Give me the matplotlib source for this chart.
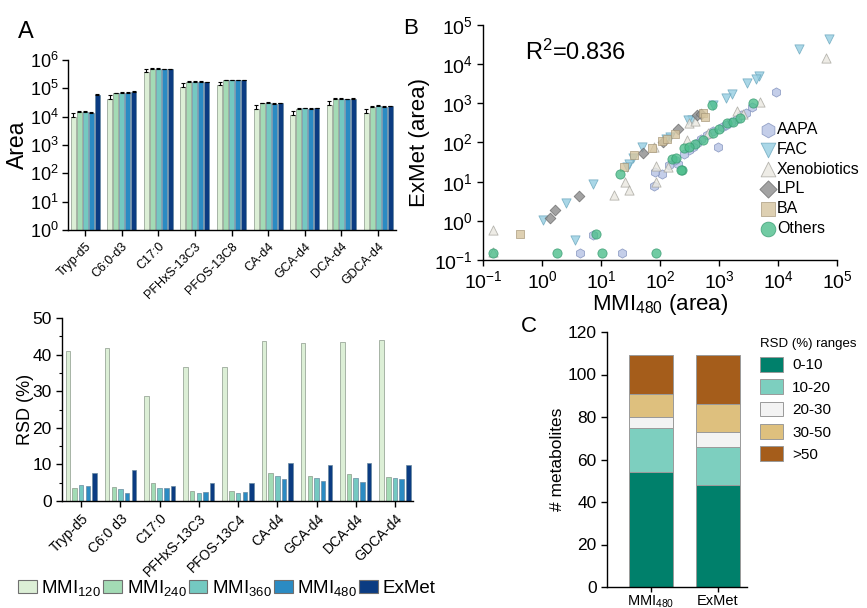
import numpy as np
import matplotlib
matplotlib.use("Agg")
import matplotlib.pyplot as plt
from matplotlib.patches import Patch
from matplotlib.ticker import LogLocator, NullLocator, MultipleLocator, LogFormatterSciNotation

plt.rcParams['font.family'] = ['Liberation Sans', 'DejaVu Sans']
plt.rcParams['mathtext.default'] = 'regular'
plt.rcParams['axes.linewidth'] = 1.0
plt.rcParams['axes.unicode_minus'] = False

# ---------------- Panel A (top): peak areas ----------------
cats_area = ['Tryp-d5', 'C6:0-d3', 'C17:0', 'PFHxS-13C3', 'PFOS-13C8', 'CA-d4', 'GCA-d4', 'DCA-d4', 'GDCA-d4']
area_mmi120 = [9.6e3, 4.2e4, 3.8e5, 1.15e5, 1.3e5, 1.9e4, 1.15e4, 2.6e4, 1.35e4]
area_mmi240 = [1.45e4, 6.6e4, 4.9e5, 1.7e5, 1.9e5, 3.0e4, 1.9e4, 4.2e4, 2.2e4]
area_mmi360 = [1.45e4, 6.9e4, 4.9e5, 1.7e5, 1.95e5, 3.1e4, 2.0e4, 4.3e4, 2.4e4]
area_mmi480 = [1.4e4, 6.9e4, 4.8e5, 1.7e5, 1.95e5, 2.9e4, 1.9e4, 4.1e4, 2.2e4]
area_exmet = [5.9e4, 7.5e4, 4.8e5, 1.65e5, 1.9e5, 3.0e4, 1.95e4, 4.2e4, 2.3e4]
err_mmi120 = [3.5e3, 1.6e4, 1.2e5, 4.0e4, 4.2e4, 7.0e3, 4.5e3, 9.0e3, 5.0e3]
err_mmi240 = [8e2, 3e3, 2e4, 7e3, 8e3, 1.5e3, 1.0e3, 2.0e3, 1.2e3]
err_mmi360 = [8e2, 3e3, 2e4, 7e3, 8e3, 1.5e3, 1.0e3, 2.0e3, 1.2e3]
err_mmi480 = [7e2, 3e3, 2e4, 7e3, 8e3, 1.5e3, 1.0e3, 2.0e3, 1.2e3]
err_exmet = [3e3, 4e3, 2e4, 7e3, 8e3, 1.5e3, 1.0e3, 2.0e3, 1.2e3]

# ---------------- Panel A (bottom): RSD ----------------
cats_rsd = ['Tryp-d5', 'C6:0 d3', 'C17:0', 'PFHxS-13C3', 'PFOS-13C4', 'CA-d4', 'GCA-d4', 'DCA-d4', 'GDCA-d4']
rsd_mmi120 = [40.9, 41.8, 28.8, 36.5, 36.5, 43.7, 43.1, 43.4, 44.1]
rsd_mmi240 = [3.6, 3.9, 5.0, 2.7, 2.7, 7.7, 6.8, 7.5, 6.6]
rsd_mmi360 = [4.3, 3.2, 3.6, 2.3, 2.3, 6.8, 6.2, 6.4, 6.3]
rsd_mmi480 = [4.2, 2.3, 3.6, 2.4, 2.4, 6.0, 5.5, 5.1, 6.0]
rsd_exmet = [7.7, 8.4, 4.2, 4.9, 4.9, 10.5, 9.7, 10.4, 9.8]

series_labels = ['MMI$_{120}$', 'MMI$_{240}$', 'MMI$_{360}$', 'MMI$_{480}$', 'ExMet']
series_colors = ['#DCEFD6', '#A3DBB5', '#74C9C1', '#2B8BC3', '#0B3C82']

# ---------------- Panel B: scatter ----------------
aapa_x = [9300, 3630, 2400, 2000, 1590, 1120, 955, 794, 631, 501, 417, 363, 316, 257, 204, 178, 141, 107, 83, 79, 7.4, 4.4, 22.4, 2820, 1320]
aapa_y = [2000, 813, 501, 398, 331, 251, 79, 191, 158, 126, 95, 79, 63, 52, 28, 35, 27, 15.5, 17.4, 7.8, 0.44, 0.15, 0.15, 562, 288]
fac_x = [74000, 22400, 4680, 4170, 2950, 1660, 1320, 794, 347, 302, 148, 49, 35.5, 30.2, 27.5, 7.2, 2.57, 1.05, 3.6, 126]
fac_y = [42700, 24000, 5010, 4170, 3240, 1740, 1350, 912, 380, 380, 141, 79, 40, 28, 24, 8.7, 2.8, 1.05, 0.32, 126]
xeno_x = [0.15, 0.15, 66000, 4900, 282, 316, 87, 87, 25.7, 30.2, 16.6, 138, 78, 661, 2570, 398, 2000]
xeno_y = [0.59, 0.16, 14100, 1100, 117, 316, 24.5, 10, 10, 6.2, 4.6, 23, 78, 170, 550, 355, 631]
lpl_x = [1.35, 1.66, 4.2, 51, 112, 204, 427, 501]
lpl_y = [1.15, 1.9, 4.3, 54, 105, 219, 490, 525]
ba_x = [0.43, 24.5, 36, 72, 107, 178, 537, 575, 132]
ba_y = [0.46, 23, 47, 71, 110, 162, 562, 457, 126]
oth_x = [0.15, 1.78, 10.5, 87, 8.1, 20.9, 234, 257, 158, 186, 224, 759, 3800, 1350, 1740, 537, 794, 1000, 2240, 398, 316]
oth_y = [0.15, 0.15, 0.15, 0.15, 0.46, 15.5, 20.4, 71, 38, 40, 20, 912, 1000, 309, 331, 117, 174, 224, 417, 89, 76]
r2_text = 'R$^{2}$=0.836'

# ---------------- Panel C: stacked bars ----------------
groups_c = ['MMI$_{480}$', 'ExMet']
range_labels = ['0-10', '10-20', '20-30', '30-50', '>50']
cnt_0_10 = [54, 48]
cnt_10_20 = [21, 18]
cnt_20_30 = [5, 7]
cnt_30_50 = [11, 13]
cnt_gt50 = [18, 23]
range_colors = ['#00806B', '#7DCFBF', '#F3F3F3', '#DEC07E', '#A55D1B']

W, H = 867, 608
fig = plt.figure(figsize=(W / 100, H / 100), dpi=100)

def fx(px):
    return px / W

def fy(py):
    return 1 - py / H

def style_axes(ax):
    for s in ['top', 'right']:
        ax.spines[s].set_visible(False)
    ax.tick_params(direction='out', length=4, width=1.0, color='black')

# ---- A top ----
axA = fig.add_axes([fx(68), fy(230), fx(396) - fx(68), (230 - 60) / H])
style_axes(axA)
x = np.arange(len(cats_area))
step = 0.164
bw = 0.137
area_series = [area_mmi120, area_mmi240, area_mmi360, area_mmi480, area_exmet]
err_series = [err_mmi120, err_mmi240, err_mmi360, err_mmi480, err_exmet]
for i, (vals, errs, col) in enumerate(zip(area_series, err_series, series_colors)):
    xi = x + (i - 2) * step
    axA.bar(xi, vals, width=bw, color=col, edgecolor='#8a9a8a' if i < 2 else '#6a8aa0', linewidth=0.5, zorder=2)
    axA.errorbar(xi, vals, yerr=[np.zeros(len(vals)), errs], fmt='none', ecolor='black', elinewidth=0.8, capsize=1.3, capthick=0.8, zorder=3)
axA.set_yscale('log')
axA.set_ylim(1, 1e6)
axA.set_xlim(-0.465, 8.49)
axA.yaxis.set_major_locator(LogLocator(base=10, numticks=10))
axA.yaxis.set_minor_locator(NullLocator())
axA.yaxis.set_major_formatter(LogFormatterSciNotation())
axA.set_xticks(x)
axA.set_xticklabels(cats_area, rotation=45, ha='right', rotation_mode='anchor', fontsize=9)
axA.tick_params(axis='y', labelsize=13, pad=2.5)
axA.set_ylabel('Area', fontsize=16.5)
axA.yaxis.set_label_coords(-0.118, 0.5)

# ---- A bottom ----
axR = fig.add_axes([fx(62), fy(501), fx(413) - fx(62), (501 - 318) / H])
style_axes(axR)
step2 = 0.17
bw2 = 0.115
rsd_series = [rsd_mmi120, rsd_mmi240, rsd_mmi360, rsd_mmi480, rsd_exmet]
for i, (vals, col) in enumerate(zip(rsd_series, series_colors)):
    axR.bar(x + (i - 2) * step2, vals, width=bw2, color=col, edgecolor='#8a9a8a' if i < 2 else '#6a8aa0', linewidth=0.5, zorder=2)
axR.set_ylim(0, 50)
axR.set_xlim(-0.49, 8.46)
axR.yaxis.set_major_locator(MultipleLocator(10))
axR.yaxis.set_minor_locator(MultipleLocator(5))
axR.tick_params(axis='y', which='minor', length=2.5, width=0.8)
axR.set_xticks(x)
axR.set_xticklabels(cats_rsd, rotation=45, ha='right', rotation_mode='anchor', fontsize=10)
axR.tick_params(axis='y', labelsize=12.5)
axR.set_ylabel('RSD (%)', fontsize=13)
axR.yaxis.set_label_coords(-0.08, 0.5)

handles_a = [Patch(facecolor=c, edgecolor='#707070', linewidth=0.8) for c in series_colors]
fig.legend(handles_a, series_labels, loc='center left', bbox_to_anchor=(fx(18), fy(588)),
           ncol=5, frameon=False, fontsize=13.5, handlelength=1.0, handleheight=0.75,
           handletextpad=0.25, columnspacing=0.1, borderpad=0, borderaxespad=0)

# ---- B ----
axB = fig.add_axes([fx(483), fy(260), fx(837) - fx(483), (260 - 25) / H])
style_axes(axB)
sc_kw = dict(s=44, alpha=0.8, linewidths=0.6, zorder=3)
axB.scatter(aapa_x, aapa_y, marker='h', facecolor='#B6C2E4', edgecolor='#8090BC', label='AAPA', **sc_kw)
axB.scatter(fac_x, fac_y, marker='v', facecolor='#95CEE1', edgecolor='#6AA6BD', label='FAC', **sc_kw)
axB.scatter(xeno_x, xeno_y, marker='^', facecolor='#EAE8E0', edgecolor='#A5A39C', label='Xenobiotics', **sc_kw)
axB.scatter(lpl_x, lpl_y, marker='D', facecolor='#8C8C8C', edgecolor='#6A6A6A', label='LPL', s=30, alpha=0.8, linewidths=0.6, zorder=3)
axB.scatter(ba_x, ba_y, marker='s', facecolor='#D6C59F', edgecolor='#A8987A', label='BA', s=40, alpha=0.8, linewidths=0.6, zorder=3)
axB.scatter(oth_x, oth_y, marker='o', facecolor='#4DBE8C', edgecolor='#379A70', label='Others', **sc_kw)
axB.set_xscale('log')
axB.set_yscale('log')
axB.set_xlim(0.1, 1e5)
axB.set_ylim(0.1, 1e5)
for axis in (axB.xaxis, axB.yaxis):
    axis.set_major_locator(LogLocator(base=10, numticks=10))
    axis.set_minor_locator(NullLocator())
    axis.set_major_formatter(LogFormatterSciNotation())
axB.tick_params(labelsize=14)
axB.set_xlabel('MMI$_{480}$ (area)', fontsize=16)
axB.set_ylabel('ExMet (area)', fontsize=16)
axB.xaxis.set_label_coords(0.5, -0.135)
axB.yaxis.set_label_coords(-0.15, 0.5)
axB.text(fx(525), fy(52), r2_text, transform=fig.transFigure, fontsize=17, va='center', ha='left')
axB.legend(loc='upper left', bbox_to_anchor=(fx(760), fy(122)), bbox_transform=fig.transFigure,
           frameon=False, fontsize=11.5, markerscale=1.6, handletextpad=0.05, labelspacing=0.3,
           borderpad=0, borderaxespad=0, handlelength=1.0, scatterpoints=1)

# ---- C ----
axC = fig.add_axes([fx(607), fy(587), fx(747) - fx(607), (587 - 332) / H])
style_axes(axC)
xc = np.arange(len(groups_c))
bottom = np.zeros(len(groups_c))
for vals, col, lab in zip([cnt_0_10, cnt_10_20, cnt_20_30, cnt_30_50, cnt_gt50], range_colors, range_labels):
    axC.bar(xc, vals, bottom=bottom, width=0.66, color=col, edgecolor='#9a9a9a', linewidth=0.7, label=lab, zorder=2)
    bottom = bottom + np.array(vals)
axC.set_xlim(-0.66, 1.44)
axC.set_ylim(0, 120)
axC.yaxis.set_major_locator(MultipleLocator(20))
axC.set_xticks(xc)
axC.set_xticklabels(groups_c, fontsize=10.5)
axC.tick_params(axis='x', pad=1.5, length=3.5)
axC.tick_params(axis='y', labelsize=12.5)
axC.set_ylabel('# metabolites', fontsize=12.5)
axC.yaxis.set_label_coords(-0.30, 0.5)
handles_c = [Patch(facecolor=c, edgecolor='#9a9a9a', linewidth=0.7) for c in range_colors]
axC.legend(handles_c, range_labels, title='RSD (%) ranges', loc='upper left',
           bbox_to_anchor=(fx(760), fy(338)), bbox_transform=fig.transFigure, frameon=False,
           fontsize=11, title_fontsize=9.5, alignment='left', handlelength=1.5, handleheight=1.1,
           handletextpad=0.6, labelspacing=0.45, borderpad=0, borderaxespad=0)

# ---- panel letters ----
fig.text(fx(18), fy(32), 'A', fontsize=17, va='center', ha='left')
fig.text(fx(403), fy(28), 'B', fontsize=16, va='center', ha='left')
fig.text(fx(521), fy(326), 'C', fontsize=16, va='center', ha='left')

fig.savefig('out.png', dpi=100)
